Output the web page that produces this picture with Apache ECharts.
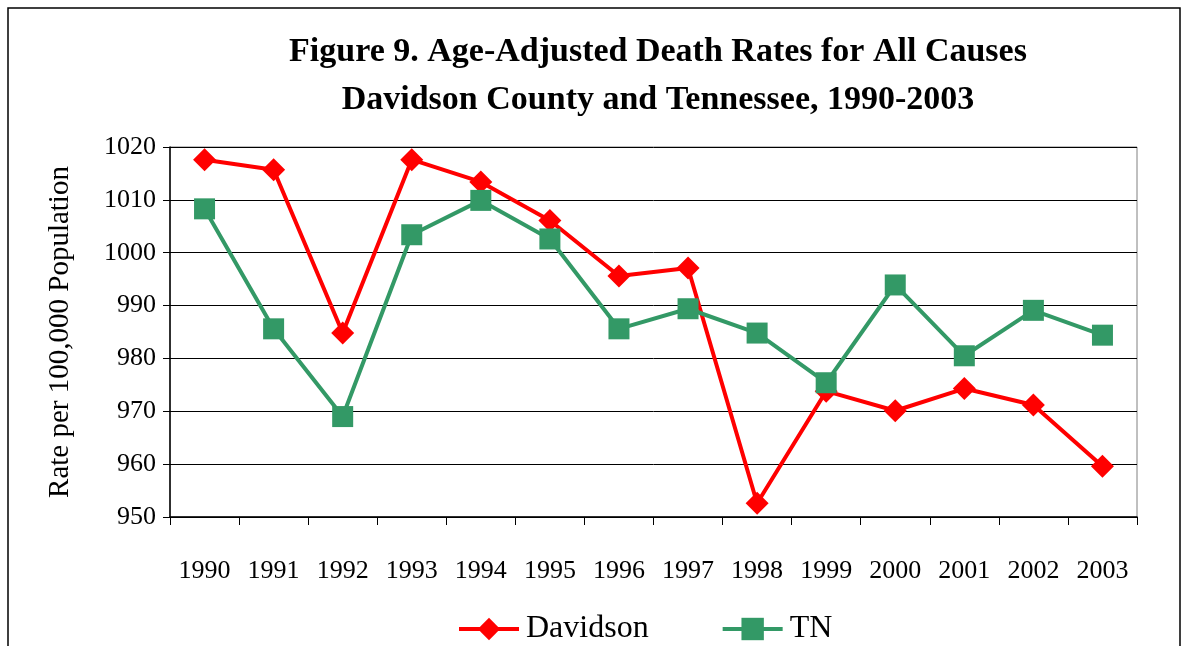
<!DOCTYPE html>
<html>
<head>
<meta charset="utf-8">
<script src="https://cdn.jsdelivr.net/npm/echarts@6/dist/echarts.min.js"></script>
<style>
  html, body { margin: 0; padding: 0; background: #fff; }
  #chart { width: 1189px; height: 646px; }
</style>
</head>
<body>
<div id="chart"></div>
<script>
const years = ['1990', '1991', '1992', '1993', '1994', '1995', '1996', '1997', '1998', '1999', '2000', '2001', '2002', '2003'];
const davidson = [1017.6, 1015.7, 984.8, 1017.6, 1013.4, 1006.1, 995.6, 997.1, 952.6, 973.8, 970.1, 974.3, 971.2, 959.6];
const tn = [1008.3, 985.6, 969.0, 1003.4, 1009.9, 1002.6, 985.6, 989.4, 984.8, 975.4, 993.9, 980.5, 989.1, 984.4];
const titleLines = ['Figure 9. Age-Adjusted Death Rates for All Causes', 'Davidson County and Tennessee, 1990-2003'];

const serif = '"Liberation Serif", "DejaVu Serif", serif';
const chart = echarts.init(document.getElementById('chart'));

chart.setOption({
  animation: false,
  backgroundColor: '#fff',
  graphic: [
    {
      type: 'rect',
      shape: { x: 8, y: 8, width: 1172, height: 700 },
      style: { fill: 'none', stroke: '#000', lineWidth: 1.5 },
      silent: true
    }
  ],
  title: {
    text: titleLines.join('\n'),
    left: 653,
    top: 23,
    textAlign: 'center',
    textStyle: {
      fontFamily: serif,
      fontWeight: 'bold',
      fontSize: 34,
      lineHeight: 48,
      color: '#000'
    }
  },
  legend: {
    left: 452,
    top: 608,
    itemWidth: 60,
    itemHeight: 28,
    itemGap: 72,
    lineStyle: { width: 4 },
    textStyle: { fontFamily: serif, fontSize: 32, color: '#000', padding: [0, 0, 0, 2] },
    data: ['Davidson', 'TN']
  },
  grid: {
    left: 170,
    right: 52,
    top: 147,
    bottom: 129,
    show: true,
    borderColor: '#808080',
    borderWidth: 1
  },
  xAxis: {
    type: 'category',
    data: years,
    boundaryGap: true,
    axisLine: { lineStyle: { color: '#000', width: 1.5 } },
    axisTick: { show: true, length: 8, lineStyle: { color: '#000' } },
    axisLabel: { fontFamily: serif, fontSize: 26, color: '#000', margin: 41 }
  },
  yAxis: {
    type: 'value',
    min: 950,
    max: 1020,
    interval: 10,
    name: 'Rate per 100,000 Population',
    nameLocation: 'middle',
    nameGap: 95,
    nameTextStyle: { fontFamily: serif, fontSize: 29, color: '#000' },
    axisLine: { show: true, lineStyle: { color: '#000', width: 1.5 } },
    axisTick: { show: true, length: 7, lineStyle: { color: '#000' } },
    axisLabel: { fontFamily: serif, fontSize: 26, color: '#000', margin: 14, formatter: v => String(v) },
    splitLine: { show: true, lineStyle: { color: '#000', width: 1 } }
  },
  series: [
    {
      name: 'Davidson',
      type: 'line',
      data: davidson,
      symbol: 'diamond',
      symbolSize: 23,
      lineStyle: { color: '#ff0000', width: 4 },
      itemStyle: { color: '#ff0000' }
    },
    {
      name: 'TN',
      type: 'line',
      data: tn,
      symbol: 'rect',
      symbolSize: 21,
      lineStyle: { color: '#339966', width: 4 },
      itemStyle: { color: '#339966' }
    }
  ]
});
</script>
</body>
</html>
